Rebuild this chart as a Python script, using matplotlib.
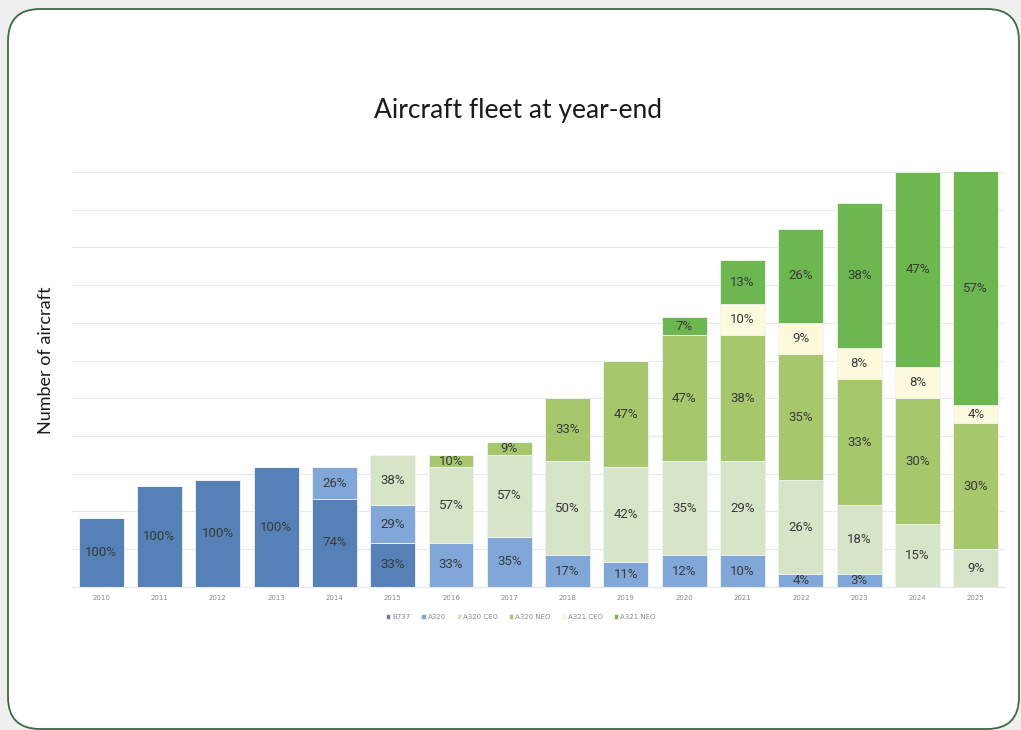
import matplotlib
matplotlib.use("Agg")
import matplotlib.pyplot as plt
from matplotlib.patches import FancyBboxPatch
import numpy as np

years = [str(y) for y in range(2010, 2026)]
series = ["B737", "A320", "A320 CEO", "A320 NEO", "A321 CEO", "A321 NEO"]
b737 = [11, 16, 17, 19, 14, 7, 0, 0, 0, 0, 0, 0, 0, 0, 0, 0]
a320 = [0, 0, 0, 0, 5, 6, 7, 8, 5, 4, 5, 5, 2, 2, 0, 0]
a320_ceo = [0, 0, 0, 0, 0, 8, 12, 13, 15, 15, 15, 15, 15, 11, 10, 6]
a320_neo = [0, 0, 0, 0, 0, 0, 2, 2, 10, 17, 20, 20, 20, 20, 20, 20]
a321_ceo = [0, 0, 0, 0, 0, 0, 0, 0, 0, 0, 0, 5, 5, 5, 5, 3]
a321_neo = [0, 0, 0, 0, 0, 0, 0, 0, 0, 0, 3, 7, 15, 23, 31, 38]
colors = ["#5581b6", "#80a7d8", "#d6e4c7", "#a7c76c", "#fdf9dd", "#6cb74f"]

data = np.array([b737, a320, a320_ceo, a320_neo, a321_ceo, a321_neo], dtype=float)
totals = data.sum(axis=0)
ymax = 66

fig = plt.figure(figsize=(10.21, 7.30), dpi=100)
fig.patch.set_facecolor("#efefef")
panel = FancyBboxPatch((0.08, 0.01), 10.11, 7.20,
                       boxstyle="round,pad=0,rounding_size=0.32",
                       transform=fig.dpi_scale_trans,
                       facecolor="white", edgecolor="#3d6b40", linewidth=1.3,
                       zorder=-5)
fig.add_artist(panel)

ax = fig.add_axes([0.0705, 0.196, 0.9138, 0.5684])
ax.set_facecolor("none")
x = np.arange(len(years))
bottom = np.zeros(len(years))
handles = []
for name, vals, col in zip(series, data, colors):
    h = ax.bar(x, vals, 0.77, bottom=bottom, color=col, edgecolor="#f2f2f2",
               linewidth=0.6, label=name, zorder=2)
    handles.append(h)
    for i, v in enumerate(vals):
        if v > 0:
            top = min(bottom[i] + v, ymax)
            yc = (bottom[i] + top) / 2
            pct = int(round(v / totals[i] * 100))
            ax.text(x[i], yc, f"{pct}%", ha="center", va="center",
                    fontsize=9.5, color="#3a3a3a", family="Roboto", zorder=3)
    bottom += vals

ax.set_xlim(-0.5, len(years) - 0.5)
ax.set_ylim(0, ymax)
ax.set_yticks(np.arange(0, ymax + 1, 6))
ax.set_yticklabels([])
ax.tick_params(axis="y", length=0)
ax.grid(axis="y", color="#e8e8e8", linewidth=0.8, zorder=0)
ax.set_xticks(x)
ax.set_xticklabels(years, fontsize=5, color="#8a8a8a")
ax.tick_params(axis="x", length=0, pad=6)
for s in ["top", "right", "left"]:
    ax.spines[s].set_visible(False)
ax.spines["bottom"].set_color("#e8e8e8")

fig.text(0.507, 0.849, "Aircraft fleet at year-end", ha="center", va="center",
         fontsize=19, family="Lato", color="#1a1a1a")
fig.text(0.045, 0.507, "Number of aircraft", rotation=90, ha="center", va="center",
         fontsize=13, family="Lato", color="#1a1a1a")

fig.legend(handles=handles, labels=series, loc="center", bbox_to_anchor=(0.51, 0.155),
           ncol=6, frameon=False, fontsize=5, labelcolor="#8a8a8a",
           handlelength=0.6, handleheight=0.6, handletextpad=0.3, columnspacing=1.6)

fig.savefig("out.png", dpi=100, facecolor=fig.get_facecolor())
